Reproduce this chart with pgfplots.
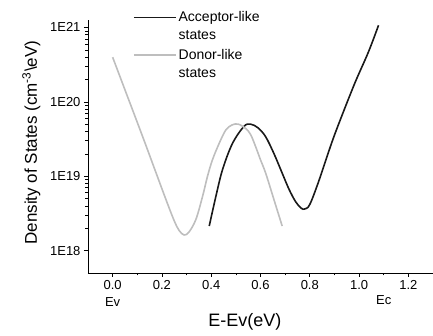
\documentclass[border=0pt]{standalone}
\usepackage{pgfplots}
\pgfplotsset{compat=1.18}
\usepackage{fontspec}
\setmainfont{Liberation Sans}
\definecolor{donor}{RGB}{190,190,190}
\definecolor{acc}{RGB}{25,25,25}
\begin{document}
\begin{tikzpicture}
\useasboundingbox (-88pt,-62pt) rectangle (345pt,273pt);
\begin{axis}[
  scale only axis,
  width=345pt, height=253pt,
  at={(0,0)}, anchor=south west,
  ymode=log,
  xmin=-0.1, xmax=1.3,
  ymin=5e17, ymax=1.26e21,
  axis x line*=bottom, axis y line*=left,
  tick align=outside,
  xtick={0,0.2,0.4,0.6,0.8,1.0,1.2},
  xticklabels={0.0,0.2,0.4,0.6,0.8,1.0,1.2},
  minor x tick num=1,
  ytick={1e18,1e19,1e20,1e21},
  yticklabels={1E18,1E19,1E20,1E21},
  /pgf/number format/assume math mode=true,
  tick label style={font=\fontsize{13}{15}\selectfont},
  major tick length=4pt, minor tick length=2.5pt,
  every tick/.style={black, line width=0.6pt},
  axis line style={line width=0.7pt},
  xlabel={E-Ev(eV)},
  ylabel={Density of States (cm\textsuperscript{-3}\textbackslash eV)},
  xlabel style={font=\fontsize{18}{20}\selectfont, at={(axis description cs:0.455,0)}, anchor=north, yshift=-37pt},
  ylabel style={font=\fontsize{17}{19}\selectfont, at={(axis description cs:0,0.515)}, anchor=south, yshift=44pt},
  legend style={at={(axis description cs:0.13,1.042)}, anchor=north west, draw=none, fill=none,
    font=\fontsize{14}{18}\selectfont, cells={align=left}, row sep=4pt, inner sep=0pt},
  legend cell align=left,
  legend image code/.code={\draw[#1] (0pt,9pt) -- (42pt,9pt);},
  clip=false,
]
\addplot[acc, line width=1.6pt, smooth, tension=0.55] coordinates {
(0.392,2.14e18) (0.419,5.37e18) (0.446,1.23e19) (0.486,2.75e19) (0.533,4.68e19)
(0.56,5.01e19) (0.59,4.47e19) (0.621,3.39e19) (0.655,2.0e19) (0.688,1.10e19)
(0.715,6.76e18) (0.742,4.57e18) (0.765,3.72e18) (0.78,3.63e18) (0.80,4.17e18)
(0.836,8.51e18) (0.89,2.88e19) (0.931,6.61e19) (0.985,1.86e20) (1.038,4.68e20)
(1.079,1.07e21)
};
\addlegendentry{Acceptor-like\\states}
\addplot[donor, line width=1.6pt, smooth, tension=0.55] coordinates {
(0,3.98e20) (0.05,1.45e20) (0.122,3.39e19) (0.17,1.26e19) (0.217,4.79e18)
(0.25,2.51e18) (0.27,1.86e18) (0.29,1.62e18) (0.31,1.78e18) (0.338,2.63e18)
(0.365,5.37e18) (0.385,1.0e19) (0.405,1.66e19) (0.432,2.75e19) (0.459,4.17e19)
(0.485,4.90e19) (0.51,5.01e19) (0.54,4.37e19) (0.56,3.63e19) (0.58,2.51e19)
(0.60,1.66e19) (0.621,1.10e19) (0.655,4.79e18) (0.688,2.14e18)
};
\addlegendentry{Donor-like\\states}
\node[font=\fontsize{13}{15}\selectfont, anchor=north] at (axis cs:0,5e17) [yshift=-21pt] {Ev};
\node[font=\fontsize{13}{15}\selectfont, anchor=north] at (axis cs:1.10,5e17) [yshift=-19pt] {Ec};
\end{axis}
\end{tikzpicture}
\end{document}
